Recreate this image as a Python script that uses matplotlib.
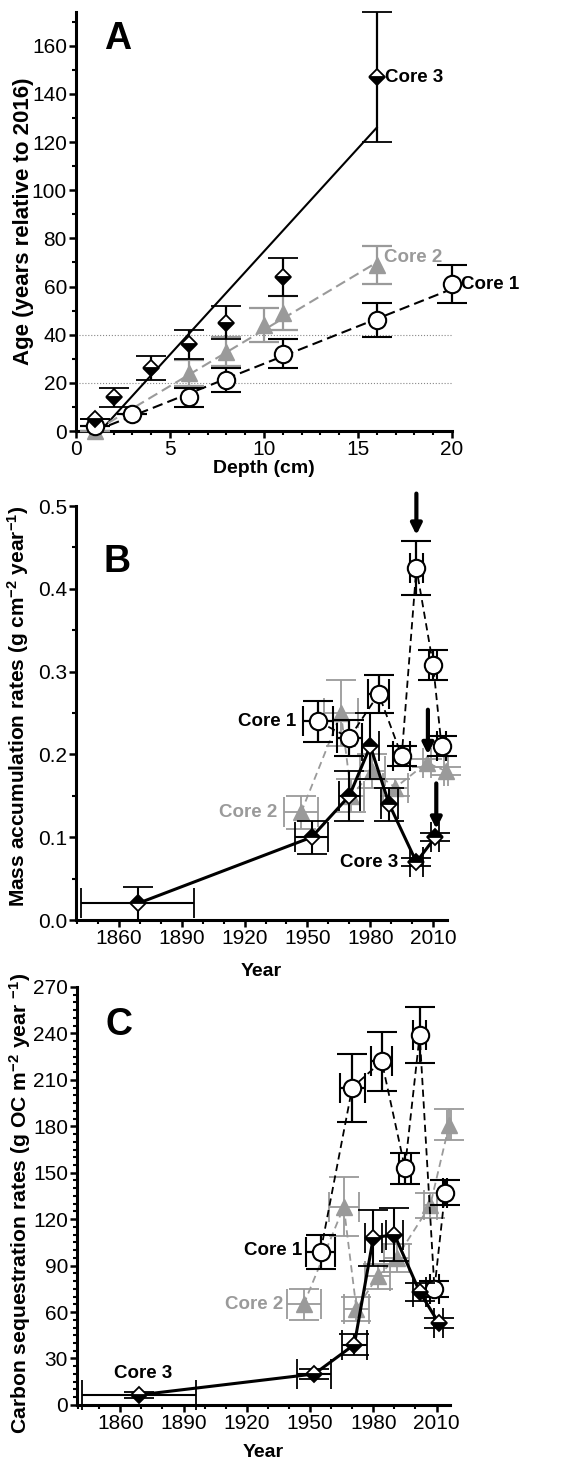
import matplotlib
matplotlib.use("Agg")
import matplotlib.pyplot as plt
from matplotlib.ticker import MultipleLocator, FormatStrFormatter

plt.rcParams['font.family'] = ['Liberation Sans', 'DejaVu Sans']
plt.rcParams['mathtext.fontset'] = 'custom'
plt.rcParams['mathtext.rm'] = 'Liberation Sans:bold'
plt.rcParams['mathtext.bf'] = 'Liberation Sans:bold'
plt.rcParams['mathtext.default'] = 'rm'

GRAY = '#9a9a9a'

# ---------------- Panel A data ----------------
a_c1_depth = [1, 3, 6, 8, 11, 16, 20]
a_c1_age = [2, 7, 14, 21, 32, 46, 61]
a_c1_err = [0, 0, 4, 5, 6, 7, 8]
a_c1_fit_depth = [1, 20]
a_c1_fit_age = [0, 59]

a_c2_depth = [1, 6, 8, 10, 11, 16]
a_c2_age = [0, 24, 33, 44, 49, 69]
a_c2_err = [0, 5.5, 6, 7, 7, 8]
a_c2_fit_depth = [1, 16]
a_c2_fit_age = [0, 70]

a_c3_depth = [1, 2, 4, 6, 8, 11, 16]
a_c3_age = [5, 14, 26, 36, 45, 64, 147]
a_c3_err = [0, 4, 5, 6, 7, 8, 27]
a_c3_fit_depth = [1.3, 16]
a_c3_fit_age = [0, 126]

a_hlines = [20, 40]

# ---------------- Panel B data ----------------
b_c1_year = [1955, 1970, 1984, 1995, 2002, 2010, 2014]
b_c1_val = [0.24, 0.22, 0.273, 0.198, 0.425, 0.308, 0.21]
b_c1_yerr = [0.025, 0.022, 0.023, 0.012, 0.033, 0.018, 0.012]
b_c1_xerr = [7, 6, 5, 4, 3, 2, 2]

b_c2_year = [1947, 1966, 1971, 1981, 1992, 2007, 2016]
b_c2_val = [0.13, 0.25, 0.15, 0.18, 0.16, 0.19, 0.18]
b_c2_yerr = [0.02, 0.04, 0.02, 0.02, 0.01, 0.005, 0.005]
b_c2_xerr = [8, 8, 6, 6, 6, 2, 1]

b_c3_year = [1869, 1952, 1970, 1980, 1989, 2002, 2011]
b_c3_val = [0.02, 0.10, 0.15, 0.21, 0.14, 0.07, 0.10]
b_c3_yerr = [0.02, 0.02, 0.03, 0.04, 0.02, 0.005, 0.005]
b_c3_xerr = [27, 8, 5, 4, 4, 3, 2]

b_arrow_x = [2002, 2007.5, 2011.5]
b_arrow_top = [0.515, 0.254, 0.165]
b_arrow_tip = [0.465, 0.200, 0.110]

# ---------------- Panel C data ----------------
c_c1_year = [1955, 1970, 1984, 1995, 2002, 2009, 2014]
c_c1_val = [99, 205, 222, 153, 239, 75, 137]
c_c1_yerr = [11, 22, 19, 10, 18, 5, 8]
c_c1_xerr = [7, 6, 5, 3, 3, 2, 1]

c_c2_year = [1947, 1966, 1972, 1982, 1991, 2007, 2016]
c_c2_val = [65, 128, 62, 83, 95, 129, 181]
c_c2_yerr = [10, 19, 8, 8, 9, 8, 10]
c_c2_xerr = [8, 7, 6, 6, 6, 3, 1]

c_c3_year = [1869, 1952, 1971, 1980, 1990, 2002, 2011]
c_c3_val = [6.5, 20, 39, 108, 110, 73, 53]
c_c3_yerr = [2, 3, 7, 18, 17, 6, 3]
c_c3_xerr = [27, 8, 6, 4, 4, 3, 2]

TICK_FS = 15
XLAB_FS = 14
CORE_FS = 13.5
PANEL_FS = 27
CAP = 11

fig = plt.figure(figsize=(5.84, 14.65), dpi=100)
axA = fig.add_axes([0.130, 0.7058, 0.644, 0.286])
axB = fig.add_axes([0.130, 0.372, 0.635, 0.2826])
axC = fig.add_axes([0.132, 0.041, 0.639, 0.2853])


def style(ax):
    for s in ['top', 'right']:
        ax.spines[s].set_visible(False)
    for s in ['left', 'bottom']:
        ax.spines[s].set_linewidth(2.2)
    ax.tick_params(which='major', direction='out', length=5, width=1.8,
                   labelsize=TICK_FS, pad=1.5)
    ax.tick_params(which='minor', direction='out', length=3, width=1.5)


# ---------- Panel A ----------
ax = axA
style(ax)
for h in a_hlines:
    ax.plot([0, 20], [h, h], color='#888888', lw=0.8, ls=':', zorder=1)
ax.plot(a_c3_fit_depth, a_c3_fit_age, color='black', lw=1.5, zorder=2)
ax.plot(a_c2_fit_depth, a_c2_fit_age, color=GRAY, lw=1.5, ls=(0, (5, 2.5)), zorder=2)
ax.plot(a_c1_fit_depth, a_c1_fit_age, color='black', lw=1.5, ls=(0, (5, 2.5)), zorder=2)
ax.errorbar(a_c2_depth, a_c2_age, yerr=a_c2_err, fmt='^', color=GRAY,
            ms=11, mfc=GRAY, mec=GRAY, ecolor=GRAY, elinewidth=1.6,
            capsize=CAP, capthick=1.6, zorder=3, clip_on=False)
ax.errorbar(a_c1_depth, a_c1_age, yerr=a_c1_err, fmt='o', color='black',
            ms=12.5, mfc='white', mec='black', mew=1.5, ecolor='black',
            elinewidth=1.6, capsize=CAP, capthick=1.6, zorder=4, clip_on=False)
ax.errorbar(a_c3_depth, a_c3_age, yerr=a_c3_err, fmt='D', color='black',
            ms=8.5, mfc='black', mfcalt='white', fillstyle='bottom', mec='black',
            mew=1.3, ecolor='black', elinewidth=1.6, capsize=CAP, capthick=1.6,
            zorder=5, clip_on=False)
ax.set_xlim(0, 20)
ax.set_ylim(0, 174)
ax.xaxis.set_major_locator(MultipleLocator(5))
ax.xaxis.set_minor_locator(MultipleLocator(1))
ax.yaxis.set_minor_locator(MultipleLocator(10))
ax.set_yticks([0, 20, 40, 60, 80, 100, 120, 140, 160])
ax.set_xlabel('Depth (cm)', fontsize=XLAB_FS, fontweight='bold', labelpad=1)
ax.set_ylabel('Age (years relative to 2016)', fontsize=16, fontweight='bold')
ax.yaxis.set_label_coords(-0.112, 0.5)
ax.text(16.45, 147, 'Core 3', fontsize=CORE_FS, fontweight='bold', va='center', ha='left')
ax.text(16.4, 72, 'Core 2', fontsize=CORE_FS, fontweight='bold', va='center', ha='left', color=GRAY)
ax.text(20.5, 61, 'Core 1', fontsize=CORE_FS, fontweight='bold', va='center', ha='left')
ax.text(0.075, 0.935, 'A', transform=ax.transAxes, fontsize=PANEL_FS, fontweight='bold', va='center', ha='left')


def draw_series(ax, yr, val, yerr, xerr, kind, fill=None):
    if kind == 'c1':
        ax.plot(yr, val, color='black', lw=1.3, ls=(0, (4, 2.5)), zorder=3)
        ax.errorbar(yr, val, yerr=yerr, xerr=xerr, fmt='o', ms=12.5, mfc='white',
                    mec='black', mew=1.5, ecolor='black', elinewidth=1.6,
                    capsize=CAP, capthick=1.6, zorder=4, clip_on=False)
    elif kind == 'c2':
        ax.plot(yr, val, color=GRAY, lw=1.3, ls=(0, (4, 2.5)), zorder=2)
        ax.errorbar(yr, val, yerr=yerr, xerr=xerr, fmt='^', ms=11, mfc=GRAY,
                    mec=GRAY, ecolor=GRAY, elinewidth=1.3, capsize=CAP,
                    capthick=1.3, zorder=2.5, clip_on=False)
    else:
        ax.plot(yr, val, color='black', lw=2.2, zorder=5)
        ax.errorbar(yr, val, yerr=yerr, xerr=xerr, fmt='D', ms=8.5, mfc='black',
                    mfcalt='white', fillstyle=fill, mec='black', mew=1.3,
                    ecolor='black', elinewidth=1.5, capsize=CAP, capthick=1.5,
                    zorder=6, clip_on=False)


def year_axis(ax, pad):
    ax.set_xlim(1839.5, 2016.5)
    ax.xaxis.set_minor_locator(MultipleLocator(10))
    ax.set_xticks([1860, 1890, 1920, 1950, 1980, 2010])
    ax.set_xlabel('Year', fontsize=XLAB_FS, fontweight='bold', labelpad=pad)


# ---------- Panel B ----------
ax = axB
style(ax)
draw_series(ax, b_c2_year, b_c2_val, b_c2_yerr, b_c2_xerr, 'c2')
draw_series(ax, b_c1_year, b_c1_val, b_c1_yerr, b_c1_xerr, 'c1')
draw_series(ax, b_c3_year, b_c3_val, b_c3_yerr, b_c3_xerr, 'c3', fill='top')
for x, y0, y1 in zip(b_arrow_x, b_arrow_top, b_arrow_tip):
    ax.annotate('', xy=(x, y1), xytext=(x, y0), annotation_clip=False,
                arrowprops=dict(arrowstyle='-|>', lw=3, color='black',
                                mutation_scale=16, shrinkA=0, shrinkB=0), zorder=7)
year_axis(ax, 11)
ax.set_ylim(0, 0.5)
ax.yaxis.set_major_locator(MultipleLocator(0.1))
ax.yaxis.set_minor_locator(MultipleLocator(0.05))
ax.yaxis.set_major_formatter(FormatStrFormatter('%.1f'))
ax.set_ylabel(r'Mass accumulation rates (g cm$^{-2}$ year$^{-1}$)', fontsize=15,
              fontweight='bold')
ax.yaxis.set_label_coords(-0.12, 0.515)
ax.text(1944.5, 0.24, 'Core 1', fontsize=CORE_FS, fontweight='bold', va='center', ha='right')
ax.text(1935.5, 0.13, 'Core 2', fontsize=CORE_FS, fontweight='bold', va='center', ha='right', color=GRAY)
ax.text(1993.5, 0.07, 'Core 3', fontsize=CORE_FS, fontweight='bold', va='center', ha='right')
ax.text(0.075, 0.865, 'B', transform=ax.transAxes, fontsize=PANEL_FS, fontweight='bold', va='center', ha='left')

# ---------- Panel C ----------
ax = axC
style(ax)
draw_series(ax, c_c2_year, c_c2_val, c_c2_yerr, c_c2_xerr, 'c2')
draw_series(ax, c_c1_year, c_c1_val, c_c1_yerr, c_c1_xerr, 'c1')
draw_series(ax, c_c3_year, c_c3_val, c_c3_yerr, c_c3_xerr, 'c3', fill='bottom')
year_axis(ax, 8)
ax.set_ylim(0, 270)
ax.yaxis.set_major_locator(MultipleLocator(30))
ax.yaxis.set_minor_locator(MultipleLocator(5))
ax.set_ylabel(r'Carbon sequestration rates (g OC m$^{-2}$ year $^{-1}$)', fontsize=15.2,
              fontweight='bold')
ax.yaxis.set_label_coords(-0.117, 0.483)
ax.text(1946.5, 100, 'Core 1', fontsize=CORE_FS, fontweight='bold', va='center', ha='right')
ax.text(1937.5, 65, 'Core 2', fontsize=CORE_FS, fontweight='bold', va='center', ha='right', color=GRAY)
ax.text(1871, 20, 'Core 3', fontsize=CORE_FS, fontweight='bold', va='center', ha='center')
ax.text(0.075, 0.91, 'C', transform=ax.transAxes, fontsize=PANEL_FS, fontweight='bold', va='center', ha='left')

fig.savefig('out.png', dpi=100)
